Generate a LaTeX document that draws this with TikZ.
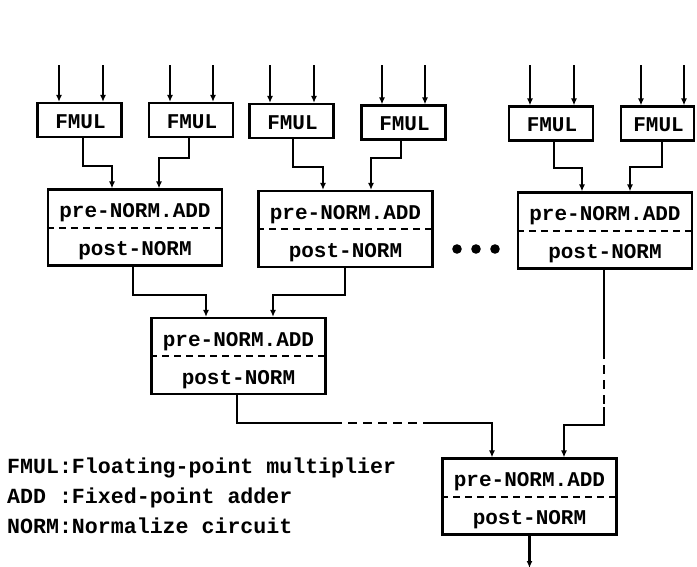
\documentclass[tikz,border=0pt]{standalone}
\usepackage{fontspec}
\newfontfamily\twfont{Liberation Mono}
\usetikzlibrary{arrows.meta,calc}
\begin{document}
\begin{tikzpicture}[x=1pt,y=-1pt,
  line/.style={line width=2.1pt},
  arr/.style={line width=2.1pt,-{Latex[length=7pt,width=6pt]}},
  fmulbox/.style={draw,line width=2.2pt,minimum width=84pt,minimum height=34pt,inner sep=0pt,
     font=\twfont\bfseries\fontsize{20.5}{21}\selectfont},
  addbox/.style={draw,line width=2.2pt,minimum width=174pt,minimum height=76pt,inner sep=0pt},
  boxtxt/.style={anchor=base,inner sep=0pt,font=\twfont\bfseries\fontsize{21}{21}\selectfont},
  legtxt/.style={anchor=base west,inner sep=0pt,font=\twfont\bfseries\fontsize{21.6}{22}\selectfont},
  sep/.style={line width=2pt,dash pattern=on 7pt off 5pt},
  dsh/.style={line width=2.1pt,dash pattern=on 9pt off 6pt}]
\useasboundingbox (0,0) rectangle (697,566);
\fill[white] (0,0) rectangle (697,566);

% FMUL boxes
\node[fmulbox] (f1) at (79.5,120) {};
\node[fmulbox] (f2) at (191,120) {};
\node[fmulbox] (f3) at (291.5,121) {};
\node[fmulbox] (f4) at (403.5,122.5) {};
\node[fmulbox] (f5) at (551,123.5) {};
\node[fmulbox,minimum width=73pt] (f6) at (657.5,123.5) {};
\foreach \n in {f1,f2,f3,f4,f5,f6}{
  \node[boxtxt] (\n t) at ($(\n.center)+(1,8)$) {FMUL};
}

% input arrows
\foreach \n/\xa/\xb in {f1/59/103,f2/170/213,f3/270/314,f4/382/425,f5/530/574,f6/641/684}{
  \coordinate (\n ia) at (\xa,65);
  \coordinate (\n ib) at (\xb,65);
  \draw[arr] (\n ia) -- (\n ia |- \n.north);
  \draw[arr] (\n ib) -- (\n ib |- \n.north);
}

% adder boxes
\foreach \n/\cx/\cy in {a1/135/227.5,a2/345.5/229,a3/605/230.5,a4/238.5/356,a5/529.5/496.5}{
  \node[addbox] (\n) at (\cx,\cy) {};
  \draw[sep] (\n.west) -- (\n.east);
  \node[boxtxt] (\n pre) at ($(\n.center)+(0,-10)$) {pre-NORM.ADD};
  \node[boxtxt] (\n post) at ($(\n.center)+(0,28)$) {post-NORM};
}

% FMUL -> first level adders
\draw[arr] (f1.south -| 83,0) |- (112,166) -- (a1.north -| 112,0);
\draw[arr] (f2.south -| 189,0) |- (159,158) -- (a1.north -| 159,0);
\draw[arr] (f3.south -| 293,0) |- (323,167) -- (a2.north -| 323,0);
\draw[arr] (f4.south -| 401,0) |- (371,158) -- (a2.north -| 371,0);
\draw[arr] (f5.south -| 554,0) |- (582,168) -- (a3.north -| 582,0);
\draw[arr] (f6.south -| 662,0) |- (630,167) -- (a3.north -| 630,0);

% dots
\foreach \x [count=\i] in {457,476,495}{
  \fill (\x,249) circle (4.8pt) coordinate (dot\i);
}

% second level
\draw[arr] (a1.south -| 133,0) |- (206,295) -- (a4.north -| 206,0);
\draw[arr] (a2.south -| 345,0) |- (273,295) -- (a4.north -| 273,0);

% to final adder
\coordinate (d1) at (333,423);
\coordinate (d2) at (427,423);
\draw[line] (a4.south -| 237,0) |- (d1);
\draw[dsh] (d1) -- (d2);
\draw[arr] (d2) -| (a5.north -| 492,0);

\coordinate (e1) at (604,350);
\coordinate (e2) at (604,407);
\draw[line] (a3.south -| 604,0) -- (e1);
\draw[dsh] (e1) -- (e2);
\draw[arr] (e2) |- (564,425) -- (a5.north -| 564,0);

\coordinate (out) at (529.5,568);
\draw[arr] (a5.south) -- (out);

% legend
\node[legtxt] (l1) at (7,473) {FMUL:Floating-point multiplier};
\node[legtxt] (l2) at (7,503) {ADD :Fixed-point adder};
\node[legtxt] (l3) at (7,533) {NORM:Normalize circuit};
\end{tikzpicture}
\end{document}
